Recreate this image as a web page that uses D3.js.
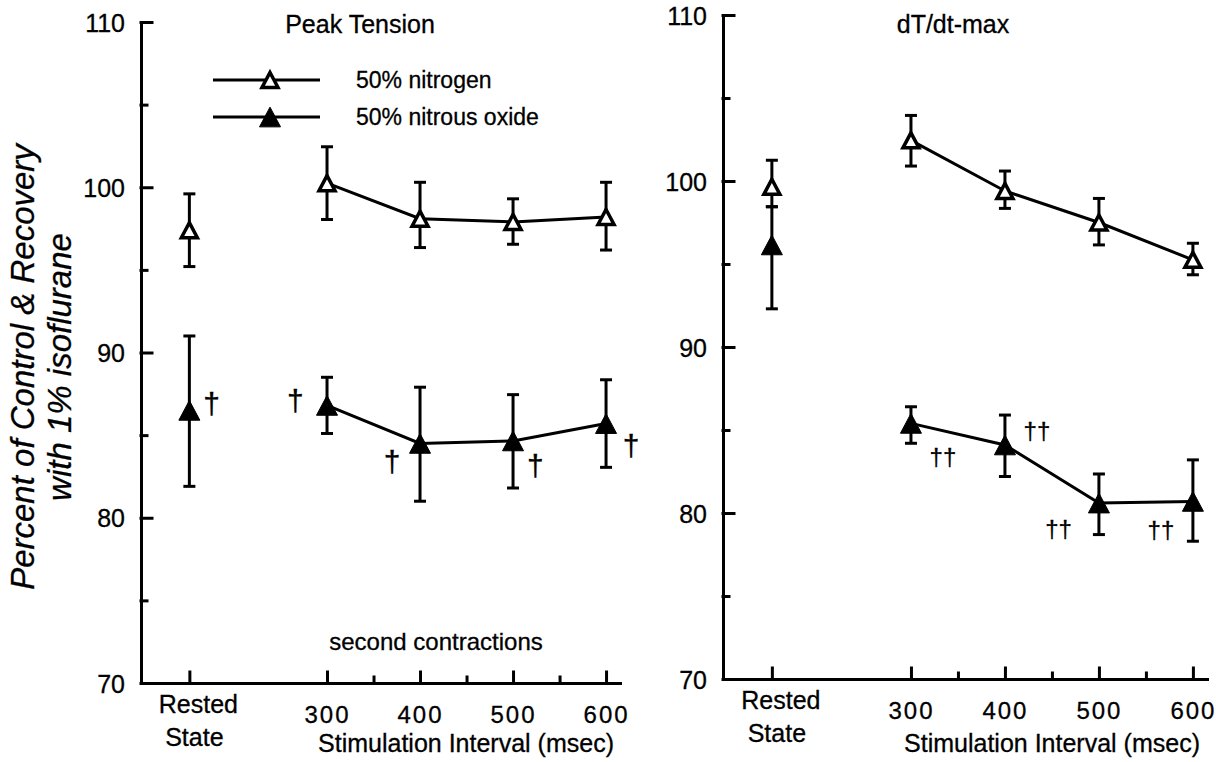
<!DOCTYPE html>
<html>
<head>
<meta charset="utf-8">
<script src="https://cdn.jsdelivr.net/npm/d3@7"></script>
<style>
  body { margin: 0; background: #fff; }
  text { font-family: "Liberation Sans", Arial, Helvetica, sans-serif; fill: #000; stroke: #000; stroke-width: 0.3; }
  .axis path, .axis line { stroke: #000; stroke-width: 3; stroke-linecap: square; }
  .axis text { font-size: 24px; font-family: "Liberation Sans", Arial, sans-serif; }
</style>
</head>
<body>
<svg width="1216" height="762"></svg>
<script>

// DATA

var intervals = ["Rested", 300, 400, 500, 600];
var restedAt = 152;            // where "Rested State" sits on the msec axis
var xTicks = [300, 400, 500, 600];
var xMinorTicks = [350, 450, 550];
var yTicks = [70, 80, 90, 100, 110];
var yMinorTicks = [75, 85, 95, 105];
var seriesNames = ["50% nitrogen", "50% nitrous oxide"];

// Peak Tension
var peakNitrogen   = [97.4, 100.25, 98.1, 97.9, 98.2];
var peakNitrogenLo = [95.2, 98.05, 96.35, 96.55, 96.2];
var peakNitrogenHi = [99.6, 102.45, 100.3, 99.3, 100.3];
var peakNitrous    = [86.5, 86.8, 84.5, 84.65, 85.7];
var peakNitrousLo  = [81.9, 85.1, 81.0, 81.8, 83.05];
var peakNitrousHi  = [91.0, 88.5, 87.9, 87.45, 88.35];

// dT/dt-max
var dtNitrogen   = [99.65, 102.45, 99.4, 97.5, 95.25];
var dtNitrogenLo = [98.45, 100.9, 98.35, 96.15, 94.35];
var dtNitrogenHi = [101.25, 103.95, 100.6, 98.95, 96.25];
var dtNitrous    = [96.15, 85.4, 84.1, 80.6, 80.7];
var dtNitrousLo  = [92.3, 84.2, 82.2, 78.7, 78.3];
var dtNitrousHi  = [98.45, 86.4, 85.9, 82.35, 83.2];

// significance marks, placed in data units [msec, percent]
var peakMarks = [[176, 86.8, "†"], [266, 87.0, "†"], [370, 83.3, "†"], [524, 83.1, "†"], [627, 84.3, "†"]];
var dtMarks = [[334, 83.3, "††"], [434, 84.9, "††"], [457, 79.0, "††"], [566, 78.9, "††"]];

var svg = d3.select("svg");

// open / filled triangle marker
var triangle = {
  draw: function(context, size) {
    var w = size, h = size * 0.94;
    context.moveTo(0, -h / 2);
    context.lineTo(w / 2, h / 2);
    context.lineTo(-w / 2, h / 2);
    context.closePath();
  }
};

function xPos(d) { return d === "Rested" ? restedAt : d; }

function drawPanel(p) {
  var x = d3.scaleLinear().domain([100, 615]).range([p.x0, p.x1]);
  var y = d3.scaleLinear().domain([70, 110]).range([p.y0, p.y1]);
  var g = svg.append("g");

  // AXES

  g.append("g")
      .attr("class", "axis")
      .attr("transform", "translate(" + p.x0 + ",0)")
      .call(d3.axisLeft(y).tickValues(yTicks).tickSizeInner(-11).tickSizeOuter(0).tickPadding(16).tickFormat(d3.format("d")))
      .call(function(a) { a.selectAll("text").attr("dy", "0.36em").style("font-size", "25px"); });

  g.append("g")
      .attr("class", "axis")
      .attr("transform", "translate(" + p.x0 + ",0)")
      .call(d3.axisLeft(y).tickValues(yMinorTicks).tickSizeInner(-6).tickSizeOuter(0).tickFormat(""))
      .call(function(a) { a.select(".domain").remove(); });

  g.append("g")
      .attr("class", "axis")
      .attr("transform", "translate(0," + p.y0 + ")")
      .call(d3.axisBottom(x).tickValues([restedAt].concat(xTicks)).tickSizeInner(-11).tickSizeOuter(0).tickPadding(p.tickPad)
        .tickFormat(function(d) { return d === restedAt ? "" : d; }))
      .call(function(a) { a.selectAll("text").attr("letter-spacing", "2px"); });

  g.append("g")
      .attr("class", "axis")
      .attr("transform", "translate(0," + p.y0 + ")")
      .call(d3.axisBottom(x).tickValues(xMinorTicks).tickSizeInner(-6).tickSizeOuter(0).tickFormat(""))
      .call(function(a) { a.select(".domain").remove(); });

  var rested = g.append("text")
      .attr("text-anchor", "middle")
      .style("font-size", "25px");
  rested.append("tspan").attr("x", x(restedAt) + 9).attr("y", p.y0 + 30).text("Rested");
  rested.append("tspan").attr("x", x(restedAt) + 5).attr("y", p.y0 + 63).text("State");

  g.append("text")
      .attr("x", p.xTitleX)
      .attr("y", 752)
      .attr("text-anchor", "middle")
      .style("font-size", "25px")
      .text("Stimulation Interval (msec)");

  g.append("text")
      .attr("x", p.titleX)
      .attr("y", 33)
      .attr("text-anchor", "middle")
      .style("font-size", "25px")
      .text(p.title);

  // SERIES

  var series = [
    { v: p.nitrogen, lo: p.nitrogenLo, hi: p.nitrogenHi, fill: "#fff", size: 16 },
    { v: p.nitrous,  lo: p.nitrousLo,  hi: p.nitrousHi,  fill: "#000", size: 21 }
  ];

  var line = d3.line()
      .x(function(d) { return x(xPos(d.k)); })
      .y(function(d) { return y(d.v); });

  series.forEach(function(s) {
    var pts = intervals.map(function(k, i) { return { k: k, v: s.v[i], lo: s.lo[i], hi: s.hi[i] }; });

    g.append("path")
        .datum(pts.slice(1))
        .attr("d", line)
        .attr("fill", "none")
        .attr("stroke", "#000")
        .attr("stroke-width", 3);

    var bar = g.append("g").selectAll("g")
      .data(pts)
      .enter().append("g")
        .attr("stroke", "#000")
        .attr("stroke-width", 3);
    bar.append("line")
        .attr("x1", function(d) { return x(xPos(d.k)); })
        .attr("x2", function(d) { return x(xPos(d.k)); })
        .attr("y1", function(d) { return y(d.lo); })
        .attr("y2", function(d) { return y(d.hi); });
    bar.selectAll("line.cap")
      .data(function(d) { return [[d.k, d.lo], [d.k, d.hi]]; })
      .enter().append("line")
        .attr("class", "cap")
        .attr("x1", function(d) { return x(xPos(d[0])) - 6; })
        .attr("x2", function(d) { return x(xPos(d[0])) + 6; })
        .attr("y1", function(d) { return y(d[1]); })
        .attr("y2", function(d) { return y(d[1]); });

    g.append("g").selectAll("path")
      .data(pts)
      .enter().append("path")
        .attr("d", d3.symbol().type(triangle).size(s.size))
        .attr("transform", function(d) { return "translate(" + x(xPos(d.k)) + "," + y(d.v) + ")"; })
        .attr("fill", s.fill)
        .attr("stroke", "#000")
        .attr("stroke-width", s.fill === "#fff" ? 3.5 : 1);
  });

  g.append("g").selectAll("text")
    .data(p.marks)
    .enter().append("text")
      .attr("x", function(d) { return x(d[0]); })
      .attr("y", function(d) { return y(d[1]); })
      .attr("dy", "0.3em")
      .attr("text-anchor", "middle")
      .style("font-size", p.markSize + "px")
      .text(function(d) { return d[2]; });

  return { x: x, y: y, g: g };
}

var left = drawPanel({
  x0: 141, x1: 620, y0: 683, y1: 22, tickPad: 23,
  title: "Peak Tension", titleX: 360, xTitleX: 466,
  nitrogen: peakNitrogen, nitrogenLo: peakNitrogenLo, nitrogenHi: peakNitrogenHi,
  nitrous: peakNitrous, nitrousLo: peakNitrousLo, nitrousHi: peakNitrousHi,
  marks: peakMarks, markSize: 30
});

var right = drawPanel({
  x0: 723, x1: 1207, y0: 679, y1: 15, tickPad: 23,
  title: "dT/dt-max", titleX: 953, xTitleX: 1052,
  nitrogen: dtNitrogen, nitrogenLo: dtNitrogenLo, nitrogenHi: dtNitrogenHi,
  nitrous: dtNitrous, nitrousLo: dtNitrousLo, nitrousHi: dtNitrousHi,
  marks: dtMarks, markSize: 24
});

left.g.append("text")
    .attr("x", 436)
    .attr("y", 650)
    .attr("text-anchor", "middle")
    .style("font-size", "24px")
    .text("second contractions");

// LEGEND

var legend = left.g.append("g").selectAll("g")
  .data(seriesNames)
  .enter().append("g")
    .attr("transform", function(d, i) { return "translate(213," + (80 + i * 37) + ")"; });
legend.append("line")
    .attr("x1", 0).attr("x2", 107)
    .attr("stroke", "#000").attr("stroke-width", 3);
legend.append("path")
    .attr("d", function(d, i) { return d3.symbol().type(triangle).size(i ? 21 : 16)(); })
    .attr("transform", "translate(57,0)")
    .attr("fill", function(d, i) { return i ? "#000" : "#fff"; })
    .attr("stroke", "#000")
    .attr("stroke-width", function(d, i) { return i ? 1 : 3.5; });
legend.append("text")
    .attr("x", 143)
    .attr("dy", "0.35em")
    .style("font-size", "23px")
    .text(function(d) { return d; });

// Y TITLE

var ytitle = svg.append("text")
    .attr("transform", "translate(0,367) rotate(-90)")
    .attr("text-anchor", "middle")
    .style("font-size", "33px")
    .style("font-style", "italic");
ytitle.append("tspan").attr("x", 0).attr("y", 34).text("Percent of Control & Recovery");
ytitle.append("tspan").attr("x", 0).attr("y", 71).text("with 1% isoflurane");

</script>
</body>
</html>
